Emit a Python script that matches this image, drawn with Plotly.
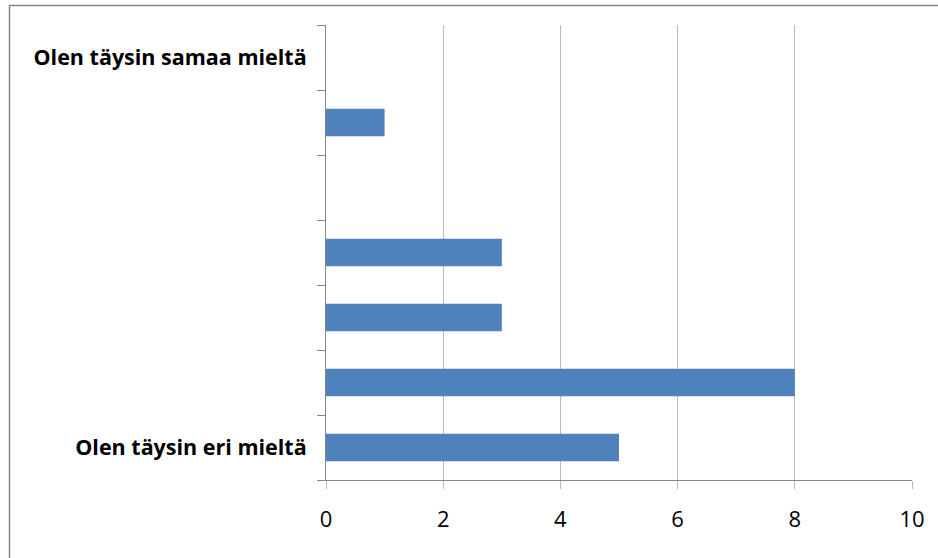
import plotly.graph_objects as go

categories = ["Olen täysin eri mieltä", "", "", "", "", "", "Olen täysin samaa mieltä"]
values = [5, 8, 3, 3, 0, 1, 0]
positions = list(range(1, len(categories) + 1))
x_ticks = [0, 2, 4, 6, 8, 10]

W, H = 938, 558
L, R, T, B = 326, 26, 25, 78
pw, ph = W - L - R, H - T - B

def px_x(p):
    return (p - L) / pw

def px_y(p):
    return (H - B - p) / ph

FONT = "Open Sans, Lato, sans-serif"

fig = go.Figure(go.Bar(
    x=values, y=positions, orientation="h",
    marker=dict(color="#4F81BD", line=dict(width=0)),
    width=0.42,
))

label_vals = [p for p, c in zip(positions, categories) if c]
label_text = [c for c in categories if c]

fig.update_layout(
    width=W, height=H,
    margin=dict(l=L, r=R, t=T, b=B, pad=0),
    paper_bgcolor="white", plot_bgcolor="white",
    font=dict(family=FONT, color="black"),
    showlegend=False,
    xaxis=dict(
        range=[0, 10], tickvals=x_ticks, showgrid=True, gridcolor="#BBBBBB", gridwidth=1,
        zeroline=False, showline=True, linecolor="#868686", linewidth=1,
        ticks="outside", ticklen=8, tickcolor="#BBBBBB", tickwidth=1,
        tickfont=dict(size=22, family=FONT), ticklabelstandoff=12,
    ),
    yaxis=dict(
        range=[0.5, 7.5], tickvals=label_vals, ticktext=label_text,
        showgrid=False, zeroline=False, showline=True, linecolor="#868686", linewidth=1,
        ticks="", tickfont=dict(size=21.5, family=FONT, weight="bold"),
        ticklabelstandoff=14,
        minor=dict(tickvals=[p + 0.5 for p in [0] + positions], ticks="outside",
                   ticklen=8, tickcolor="#868686", tickwidth=1, showgrid=False),
    ),
    shapes=[dict(type="rect", xref="paper", yref="paper",
                 x0=px_x(9.5), x1=px_x(960), y0=px_y(5.5), y1=px_y(580),
                 line=dict(color="#868686", width=1.5), fillcolor="rgba(0,0,0,0)", layer="above")],
)

fig.write_html("out.html", config={"displayModeBar": False},
               post_script="document.body.style.margin='0px';document.body.style.overflow='hidden';")
